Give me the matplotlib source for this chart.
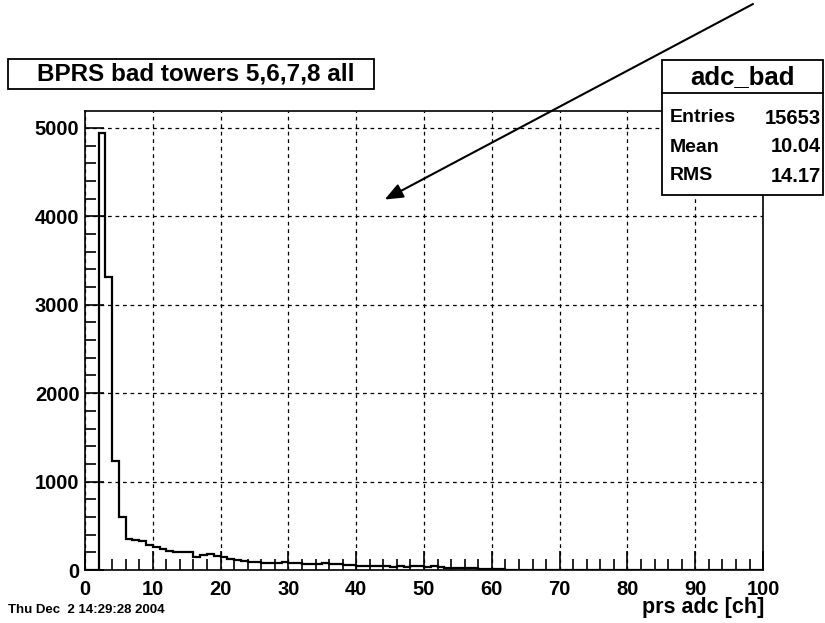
import numpy as np
import matplotlib.pyplot as plt
from matplotlib.patches import Rectangle
from matplotlib.ticker import MultipleLocator

# adc_bad histogram: 100 bins of 1 channel from 0 to 100
bin_edges = list(range(0, 101))
counts = [0, 0, 4945, 3310, 1230, 595, 355, 345, 330, 285,
          265, 238, 220, 207, 207, 207, 151, 166, 181, 158,
          151, 128, 113, 100, 94, 94, 83, 83, 83, 94,
          75, 75, 64, 64, 64, 75, 64, 64, 53, 53,
          45, 45, 45, 42, 42, 38, 45, 40, 45, 42,
          38, 45, 30, 22, 20, 20, 18, 18, 15, 15,
          8, 8, 0, 0, 0, 0, 0, 0, 0, 0,
          0, 0, 0, 0, 0, 0, 0, 0, 0, 0,
          0, 0, 0, 0, 0, 0, 0, 0, 0, 0,
          0, 0, 0, 0, 0, 0, 0, 0, 0, 0]

hist_name = 'adc_bad'
title = 'BPRS bad towers 5,6,7,8 all'
x_label = 'prs adc [ch]'
stat_names = ['Entries', 'Mean', 'RMS']
stat_values = ['15653', '10.04', '14.17']
date_text = 'Thu Dec  2 14:29:28 2004'
arrow_tip = (44.2, 4190)

plt.rcParams['font.family'] = ['Liberation Sans', 'DejaVu Sans']
plt.rcParams['font.weight'] = 'bold'

fig = plt.figure(figsize=(8.25, 6.23), dpi=100)
ax = fig.add_axes([0.103, 0.085, 0.822, 0.737])

ax.stairs(counts, bin_edges, color='black', linewidth=1.6)

ax.set_xlim(0, 100)
ax.set_ylim(0, max(counts) * 1.05)
ax.xaxis.set_major_locator(MultipleLocator(10))
ax.xaxis.set_minor_locator(MultipleLocator(2))
ax.yaxis.set_major_locator(MultipleLocator(1000))
ax.yaxis.set_minor_locator(MultipleLocator(200))
ax.tick_params(which='both', direction='in', top=False, right=False, width=1.2, labelsize=14.5)
ax.tick_params(which='major', length=14)
ax.tick_params(which='minor', length=8)
ax.tick_params(axis='x', pad=7)
ax.tick_params(axis='y', pad=4)
for lab in ax.get_xticklabels() + ax.get_yticklabels():
    lab.set_fontweight('bold')
ax.grid(True, which='major', color='black', linestyle=(0, (3, 3)), linewidth=0.9)
for sp in ax.spines.values():
    sp.set_linewidth(1.2)

fig.text(0.927, 0.016, x_label, ha='right', va='baseline', fontsize=15.5, fontweight='bold')
fig.text(0.010, 0.016, date_text, ha='left', va='baseline', fontsize=9.5, fontweight='bold')

# title box
fig.patches.append(Rectangle((8 / 825, 1 - 89 / 623), 366 / 825, 30 / 623,
                             transform=fig.transFigure, facecolor='white',
                             edgecolor='black', linewidth=1.3))
fig.text(196 / 825, 1 - 74 / 623, title, ha='center', va='center', fontsize=17.5, fontweight='bold')

# statistics box
box_l, box_r = 662 / 825, 823 / 825
box_t, box_b = 1 - 60 / 623, 1 - 195 / 623
head_b = 1 - 93 / 623
fig.patches.append(Rectangle((box_l, box_b), box_r - box_l, box_t - box_b,
                             transform=fig.transFigure, facecolor='white',
                             edgecolor='black', linewidth=1.3, zorder=3))
fig.add_artist(plt.Line2D([box_l, box_r], [head_b, head_b], transform=fig.transFigure,
                          color='black', linewidth=1.3, zorder=4))
fig.text((box_l + box_r) / 2, 1 - 77 / 623, hist_name, ha='center', va='center',
         fontsize=18.5, fontweight='bold', zorder=5)
for i, (nm, val) in enumerate(zip(stat_names, stat_values)):
    yy = 1 - (118 + 29 * i) / 623
    fig.text(670 / 825, yy, nm, ha='left', va='center', fontsize=14, fontweight='bold', zorder=5)
    fig.text(821 / 825, yy, val, ha='right', va='center', fontsize=14.5, fontweight='bold', zorder=5)

# arrow pointing into the plot
ax.annotate('', xy=arrow_tip, xycoords='data',
            xytext=(753 / 825, 1 - 4 / 623), textcoords='figure fraction',
            arrowprops=dict(arrowstyle='-|>,head_length=1.1,head_width=0.45',
                            color='black', linewidth=1.5, shrinkA=0, shrinkB=0),
            annotation_clip=False)

fig.savefig('out.png', dpi=100)
